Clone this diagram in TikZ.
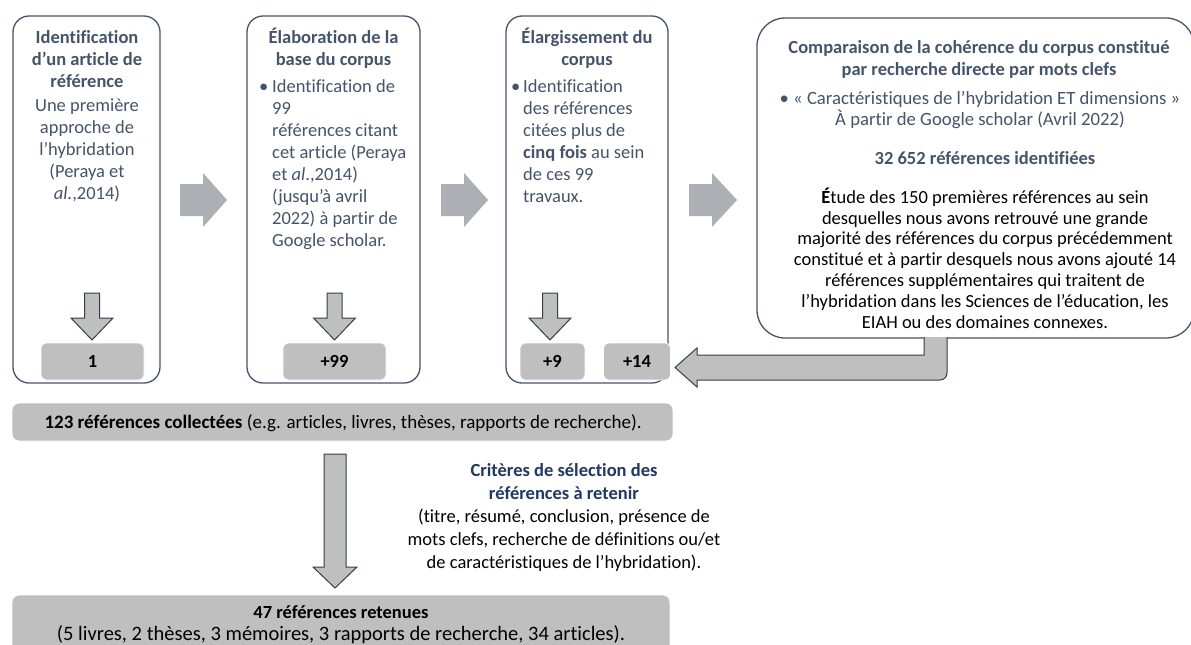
\documentclass[tikz,border=0pt]{standalone}
\usepackage{fontspec}
\setmainfont{Carlito}[Ligatures=NoCommon]
\definecolor{slate}{HTML}{44546A}
\definecolor{navy}{HTML}{1F3864}
\definecolor{boxgray}{HTML}{BFBFBF}
\definecolor{arrgray}{HTML}{ADAFB5}
\definecolor{edgeblue}{HTML}{333F50}
\newcommand\FR{\rule{0pt}{16pt}}
\newcommand\DArrow[7]{\draw[#7] ({#1-#5},#2) -- ({#1+#5},#2) -- ({#1+#5},#3) -- ({#1+#6},#3) -- (#1,#4) -- ({#1-#6},#3) -- ({#1-#5},#3) -- cycle;}
\newcommand\RArrow[6]{\fill[arrgray] (#1,{#4-#5}) -- (#2,{#4-#5}) -- (#2,{#4-#6}) -- (#3,#4) -- (#2,{#4+#6}) -- (#2,{#4+#5}) -- (#1,{#4+#5}) -- cycle;}
\tikzset{
  stage/.style={draw=slate, line width=1.3pt, rounded corners=16pt, fill=white, inner sep=0pt},
  countbox/.style={fill=boxgray, draw=white, line width=0.8pt, rounded corners=5pt, inner sep=0pt, font=\fontsize{18.5}{22}\selectfont\bfseries, text=black},
  sumbox/.style={fill=boxgray, draw=white, line width=0.8pt, rounded corners=7pt, inner sep=0pt},
  txt/.style={inner sep=0pt, anchor=north, align=center, text=slate},
  ltxt/.style={inner sep=0pt, anchor=north west, align=left, text=slate},
  bul/.style={inner sep=0pt, anchor=base west, text=slate},
  smallarrow/.style={fill=boxgray, draw=edgeblue, line width=1pt, line join=miter},
}
\begin{document}
\begin{tikzpicture}[x=1pt, y=-1pt, font=\fontsize{18.5}{22}\selectfont]
\clip (0,0) rectangle (1191,645);
\fill[white] (0,0) rectangle (1191,645);

% stage boxes
\node[stage, minimum width=147pt, minimum height=367pt] (b1) at (86.5,199.5) {};
\node[stage, minimum width=173pt, minimum height=367pt] (b2) at (333.5,199.5) {};
\node[stage, minimum width=162pt, minimum height=367pt] (b3) at (587,199.5) {};
\node[stage, rounded corners=28pt, minimum width=437pt, minimum height=320pt] (b4) at (975.5,178) {};

% box 1 text
\node[txt] (t1a) at (87,27) {\FR\textbf{Identification}\\\textbf{d’un article de}\\\textbf{référence}};
\node[txt] (t1b) at (87,95) {\FR Une première\\approche de\\l’hybridation\\(Peraya et\\\textit{al.},2014)};

% box 2 text
\node[txt] (t2a) at (333.5,27) {\FR\textbf{Élaboration de la}\\\textbf{base du corpus}};
\node[bul] (bul2) at (259,92) {•};
\node[ltxt] (t2b) at (272,76) {\FR Identification de\\99\\références citant\\cet article (Peraya\\et \textit{al}.,2014)\\(jusqu’à avril\\2022) à partir de\\Google scholar.};

% box 3 text
\node[txt] (t3a) at (587,27) {\FR\textbf{Élargissement du}\\\textbf{corpus}};
\node[bul] (bul3) at (511,92) {•};
\node[ltxt] (t3b) at (523,76) {\FR Identification\\des références\\citées plus de\\\textbf{cinq fois} au sein\\de ces 99\\travaux.};

% box 4 text
\node[txt] (t4a) at (979,37) {\FR\textbf{Comparaison de la cohérence du corpus constitué}\\\textbf{par recherche directe par mots clefs}};
\node[txt, font=\fontsize{18.7}{21.5}\selectfont] (t4b) at (980,88) {\FR• «~Caractéristiques de l’hybridation ET dimensions~»\\À partir de Google scholar (Avril 2022)};
\node[txt] (t4c) at (985,148) {\FR\textbf{32 652 références identifiées}};
\node[txt, text=black, font=\fontsize{18.5}{20.8}\selectfont] (t4d) at (985,187) {\FR\textbf{É}tude des 150 premières références au sein\\desquelles nous avons retrouvé une grande\\majorité des références du corpus précédemment\\constitué et à partir desquels nous avons ajouté 14\\références supplémentaires qui traitent de\\l’hybridation dans les Sciences de l’éducation, les\\EIAH ou des domaines connexes.};

% right block arrows
\RArrow{180}{203}{227}{200}{16}{27}
\RArrow{441}{464}{488}{200}{16}{27}
\RArrow{689}{712}{737}{200}{16}{27}

% small down arrows
\DArrow{92}{293}{318}{340}{7.5}{21}{smallarrow}
\DArrow{334.5}{293}{318}{340}{7.5}{21}{smallarrow}
\DArrow{550}{293}{318}{340}{7.5}{21}{smallarrow}

% count boxes
\node[countbox, minimum width=103pt, minimum height=37pt] (c1) at (92.5,361.5) {1};
\node[countbox, minimum width=103pt, minimum height=37pt] (c2) at (334.5,361.5) {+99};
\node[countbox, minimum width=65pt, minimum height=37pt] (c3) at (552.5,361.5) {+9};
\node[countbox, minimum width=67pt, minimum height=37pt] (c4) at (637,361.5) {+14};

% L-shaped arrow from box 4 to +14
\draw[smallarrow] (924,337) -- (924,355) -- (697,355) -- (697,348) -- (675,367.5) -- (697,387) -- (697,380)
  [rounded corners=7pt] -- (947,380) [sharp corners] -- (947,337);

% collected references
\node[sumbox, minimum width=661pt, minimum height=38pt] (s1) at (342.5,422) {};
\node[inner sep=0pt, anchor=base, text=black, font=\fontsize{19}{22}\selectfont] (s1t) at (343,428) {\textbf{123 références collectées} (e.g. articles, livres, thèses, rapports de recherche).};

% big down arrow
\DArrow{335}{454}{567}{588}{11}{22}{smallarrow}

% criteria
\node[txt, text=black, font=\fontsize{18.5}{23}\selectfont] (crit) at (564,460) {\FR\textcolor{navy}{\textbf{Critères de sélection des}}\\\textcolor{navy}{\textbf{références à retenir}}\\(titre, résumé, conclusion, présence de\\mots clefs, recherche de définitions ou/et\\de caractéristiques de l’hybridation).};

% retained references
\node[sumbox, minimum width=658pt, minimum height=70pt] (s2) at (341,630) {};
\node[txt, text=black] (s2t) at (341,602) {\FR\textbf{47 références retenues}\\{\fontsize{20.5}{22}\selectfont(5 livres, 2 thèses, 3 mémoires, 3 rapports de recherche, 34 articles).}};
\end{tikzpicture}
\end{document}
